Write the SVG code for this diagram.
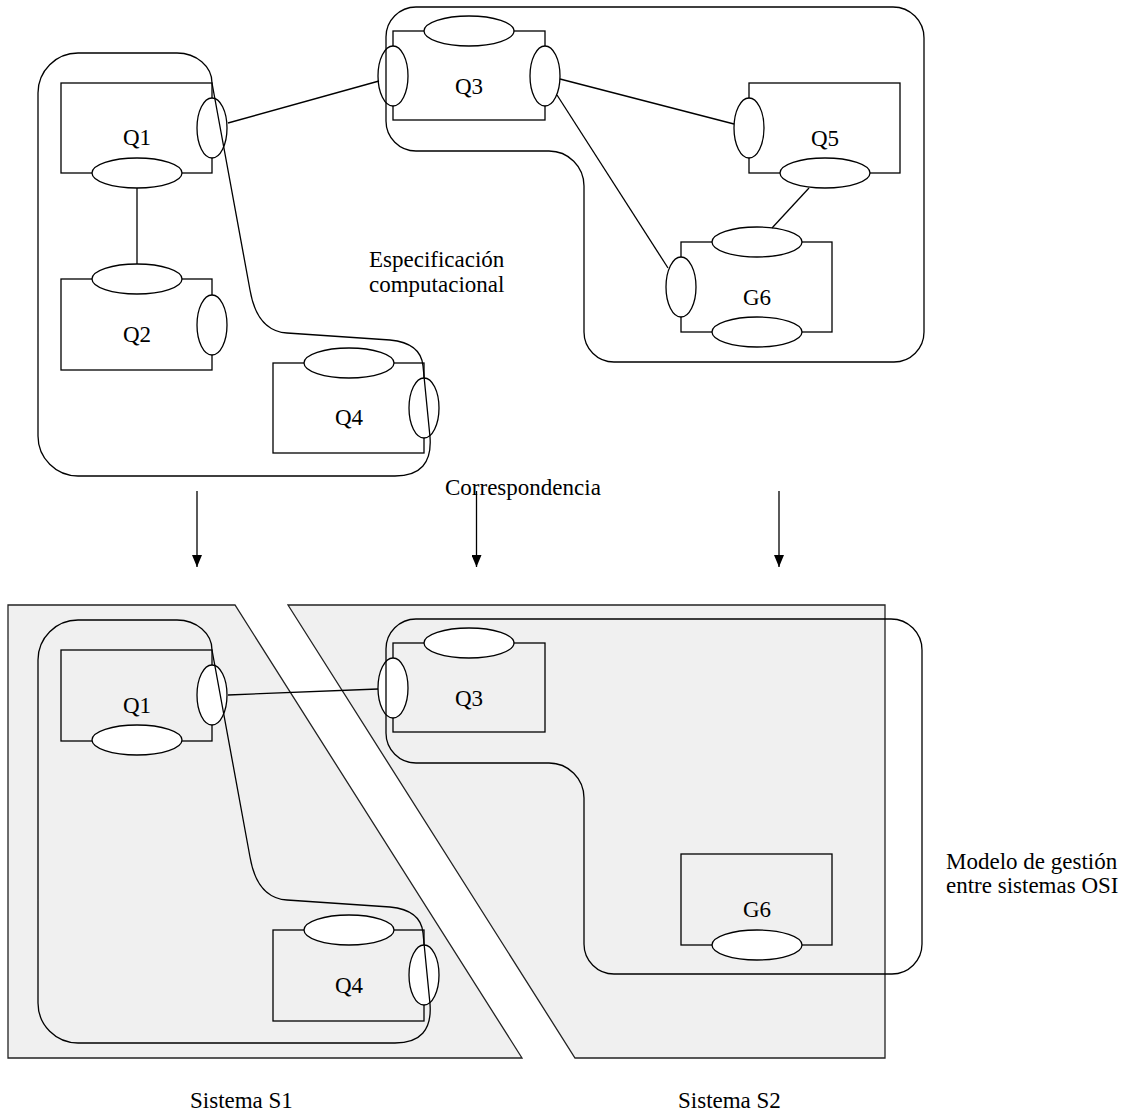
<svg xmlns="http://www.w3.org/2000/svg" width="1128" height="1117" viewBox="0 0 1128 1117">
  <style>
    .box { fill: none; stroke: #000; stroke-width: 1.3; }
    .port { fill: #fff; stroke: #000; stroke-width: 1.3; }
    .ln { fill: none; stroke: #000; stroke-width: 1.3; }
    .panel { fill: #f0f0f0; stroke: #222; stroke-width: 1.3; }
    .lbl { font-family: "Liberation Serif", "Times New Roman", serif; font-size: 23px; fill: #000; }
    .mid { text-anchor: middle; }
  </style>
  <defs>
    <!-- interface ports: horizontal (top/bottom) and vertical (left/right) -->
    <ellipse id="ph" cx="0" cy="0" rx="45" ry="15" class="port"/>
    <ellipse id="pv" cx="0" cy="0" rx="15" ry="30" class="port"/>
    <marker id="ah" viewBox="0 0 12 10" refX="12" refY="5" markerWidth="12" markerHeight="10" markerUnits="userSpaceOnUse" orient="auto">
      <path d="M0,0 L12,5 L0,10 Z" fill="#000"/>
    </marker>
  </defs>

  <rect width="1128" height="1117" fill="#fff"/>

  <!-- ===== computational specification (top) ===== -->
  <g id="top-Q1">
    <rect x="61" y="83" width="151" height="90" class="box"/>
    <use href="#pv" x="212" y="128"/>
    <use href="#ph" x="137" y="173"/>
    <text x="137" y="145" class="lbl mid">Q1</text>
  </g>
  <g id="top-Q2">
    <rect x="61" y="279" width="151" height="91" class="box"/>
    <use href="#ph" x="137" y="279"/>
    <use href="#pv" x="212" y="325"/>
    <text x="137" y="342" class="lbl mid">Q2</text>
  </g>
  <g id="top-Q4">
    <rect x="273" y="363" width="151" height="90" class="box"/>
    <use href="#ph" x="349" y="363"/>
    <use href="#pv" x="424" y="408"/>
    <text x="349" y="425" class="lbl mid">Q4</text>
  </g>
  <g id="top-Q3">
    <rect x="393" y="31" width="152" height="89" class="box"/>
    <use href="#ph" x="469" y="31"/>
    <use href="#pv" x="393" y="76"/>
    <use href="#pv" x="545" y="76"/>
    <text x="469" y="94" class="lbl mid">Q3</text>
  </g>
  <g id="top-Q5">
    <rect x="749" y="83" width="151" height="90" class="box"/>
    <use href="#pv" x="749" y="128"/>
    <use href="#ph" x="825" y="173"/>
    <text x="825" y="146" class="lbl mid">Q5</text>
  </g>
  <g id="top-G6">
    <rect x="681" y="242" width="151" height="90" class="box"/>
    <use href="#ph" x="757" y="242"/>
    <use href="#ph" x="757" y="332"/>
    <use href="#pv" x="681" y="287"/>
    <text x="757" y="305" class="lbl mid">G6</text>
  </g>

  <!-- domain outlines -->
  <g id="top-domain-left">
    <path class="ln" d="M38,93 A40,40 0 0 1 78,53 H177 A35,30 0 0 1 212,83 L250,290 Q257,331 287,333 L390,340 Q421,343 423,366 L430,437 Q433,476 395,476 H78 A40,40 0 0 1 38,436 Z"/>
  </g>
  <g id="top-domain-right">
    <path class="ln" d="M416,7 H893 A31,31 0 0 1 924,38 V332 A30,30 0 0 1 894,362 H614 A30,30 0 0 1 584,332 V186 A35,35 0 0 0 549,151 H416 A30,30 0 0 1 386,121 V37 A30,30 0 0 1 416,7 Z"/>
  </g>

  <g id="top-connectors">
    <line x1="228" y1="123" x2="379" y2="81" class="ln"/>
    <line x1="137" y1="188" x2="137" y2="264" class="ln"/>
    <line x1="560" y1="79" x2="734" y2="124" class="ln"/>
    <line x1="557" y1="95" x2="668" y2="268" class="ln"/>
    <line x1="809" y1="188" x2="772" y2="228" class="ln"/>
  </g>

  <text class="lbl" x="369" y="267">Especificación</text>
  <text class="lbl" x="369" y="292">computacional</text>

  <!-- ===== mapping ===== -->
  <text class="lbl" x="445" y="495">Correspondencia</text>
  <g id="mapping-arrows">
    <line x1="197" y1="491" x2="197" y2="567" class="ln" marker-end="url(#ah)"/>
    <line x1="476.5" y1="491" x2="476.5" y2="567" class="ln" marker-end="url(#ah)"/>
    <line x1="779" y1="491" x2="779" y2="567" class="ln" marker-end="url(#ah)"/>
  </g>

  <!-- ===== OSI systems management model (bottom) ===== -->
  <g id="system-S1">
    <polygon class="panel" points="8,605 235,605 522,1058 8,1058"/>
  </g>
  <g id="system-S2">
    <polygon class="panel" points="288,605 885,605 885,1058 575,1058"/>
  </g>

  <g id="bot-Q1">
    <rect x="61" y="650" width="151" height="91" class="box"/>
    <use href="#pv" x="212" y="695"/>
    <use href="#ph" x="137" y="740"/>
    <text x="137" y="713" class="lbl mid">Q1</text>
  </g>
  <g id="bot-Q4">
    <rect x="273" y="930" width="151" height="91" class="box"/>
    <use href="#ph" x="349" y="930"/>
    <use href="#pv" x="424" y="975"/>
    <text x="349" y="993" class="lbl mid">Q4</text>
  </g>
  <g id="bot-Q3">
    <rect x="393" y="643" width="152" height="89" class="box"/>
    <use href="#ph" x="469" y="643"/>
    <use href="#pv" x="393" y="688"/>
    <text x="469" y="706" class="lbl mid">Q3</text>
  </g>
  <g id="bot-G6">
    <rect x="681" y="854" width="151" height="91" class="box"/>
    <use href="#ph" x="757" y="945"/>
    <text x="757" y="917" class="lbl mid">G6</text>
  </g>

  <g id="bot-domain-left">
    <path class="ln" transform="translate(0,567)" d="M38,93 A40,40 0 0 1 78,53 H177 A35,30 0 0 1 212,83 L250,290 Q257,331 287,333 L390,340 Q421,343 423,366 L430,437 Q433,476 395,476 H78 A40,40 0 0 1 38,436 Z"/>
  </g>
  <g id="bot-domain-right">
    <path class="ln" transform="translate(0,612)" d="M416,7 H891 A31,31 0 0 1 922,38 V332 A30,30 0 0 1 892,362 H614 A30,30 0 0 1 584,332 V186 A35,35 0 0 0 549,151 H416 A30,30 0 0 1 386,121 V37 A30,30 0 0 1 416,7 Z"/>
  </g>

  <g id="bot-connectors">
    <line x1="228" y1="695" x2="378" y2="689" class="ln"/>
  </g>

  <text class="lbl" x="946" y="869">Modelo de gestión</text>
  <text class="lbl" x="946" y="893">entre sistemas OSI</text>

  <text class="lbl" x="190" y="1108">Sistema S1</text>
  <text class="lbl" x="678" y="1108">Sistema S2</text>
</svg>
